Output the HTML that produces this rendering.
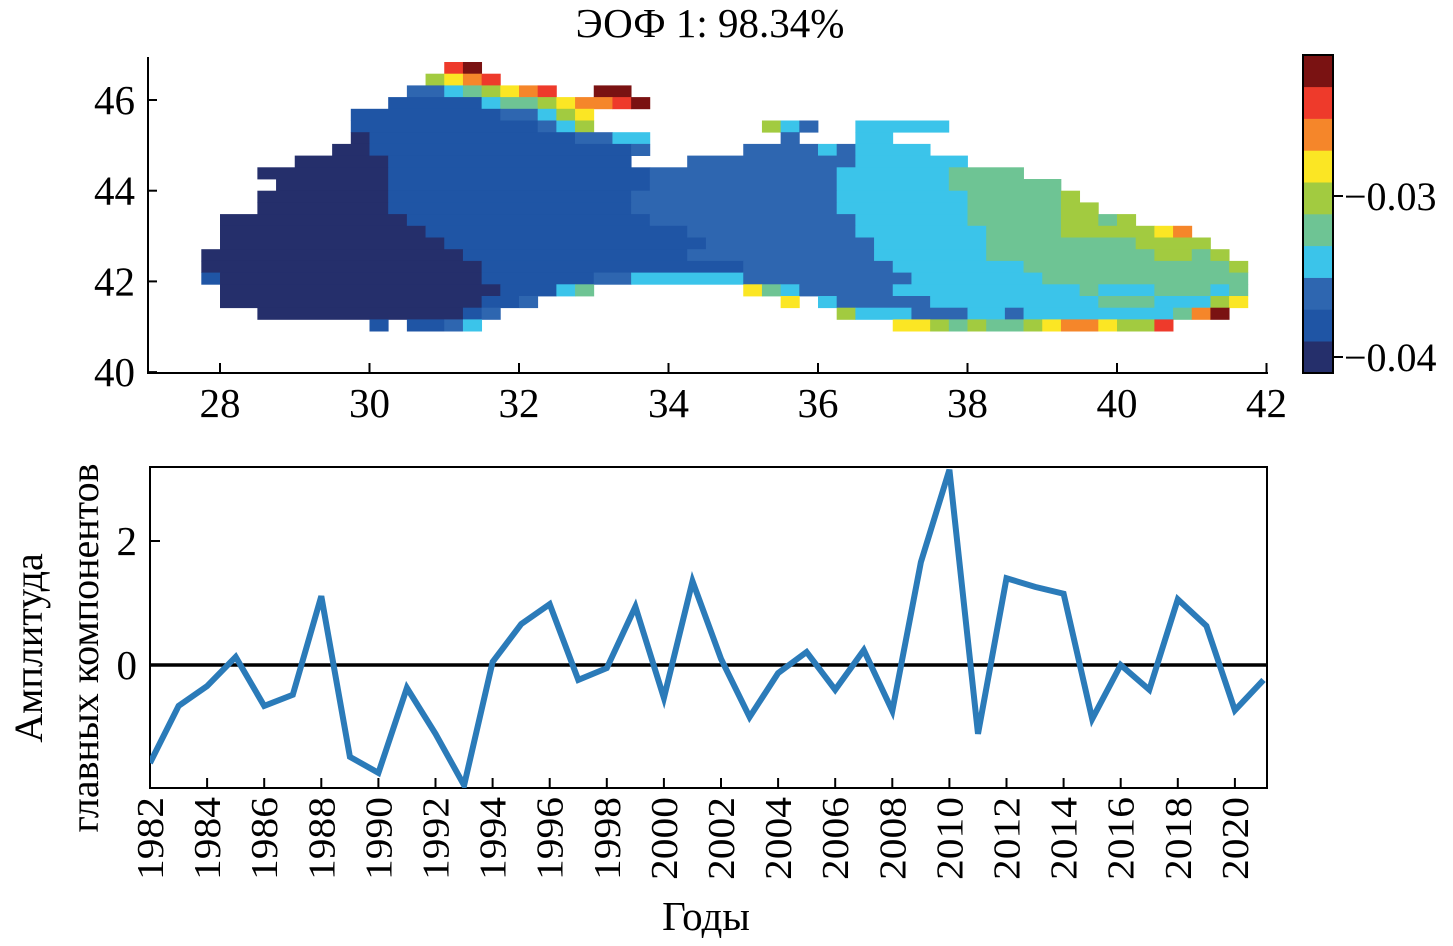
<!DOCTYPE html>
<html><head><meta charset="utf-8">
<style>
html,body{margin:0;padding:0;background:#fff;}
svg{display:block;font-family:"Liberation Serif",serif;}
</style></head>
<body>
<svg id="fig" width="1453" height="946" viewBox="0 0 1453 946">
<text x="710" y="37" font-size="41" text-anchor="middle">ЭОФ 1: 98.34%</text>
<g id="map"></g>
<g id="mapaxes"></g>
<g id="cbar"></g>
<g id="ts"></g>
</svg>
<script>
// ---- Map data ----
const mapColors = ["#252f6b","#1f55a5","#2e66b0","#3bc4ea","#6ec494","#a2cb40","#fbe624","#f5862a","#ee3a2b","#7a1212"];
const mapLonTicks = [28,30,32,34,36,38,40,42];
const mapLatTicks = [40,42,44,46];
const cbarTicks = [-0.03,-0.04];
const cbarTickLabels = ["\u22120.03","\u22120.04"];
// rows of [startCol,endCol,colorIndex]
const mapRows = [
 [[13,13,8],[14,14,9]],
 [[12,12,5],[13,13,6],[14,14,7],[15,15,8]],
 [[11,12,2],[13,13,3],[14,14,4],[15,15,5],[16,16,6],[17,17,7],[18,18,8],[21,22,9]],
 [[10,14,1],[15,15,3],[16,17,4],[18,18,5],[19,19,6],[20,21,7],[22,22,8],[23,23,9]],
 [[8,15,1],[16,17,2],[18,18,3],[19,19,5],[20,20,6]],
 [[8,17,1],[18,18,2],[19,19,3],[20,20,5],[30,30,5],[31,31,3],[32,32,2],[35,39,3]],
 [[8,8,0],[9,19,1],[20,21,2],[22,23,3],[31,31,2],[35,36,3]],
 [[7,8,0],[9,22,1],[23,23,2],[29,32,2],[33,33,3],[34,34,2],[35,38,3]],
 [[5,9,0],[10,22,1],[26,34,2],[35,40,3]],
 [[3,9,0],[10,23,1],[24,33,2],[34,39,3],[40,43,4]],
 [[4,9,0],[10,23,1],[24,33,2],[34,39,3],[40,45,4]],
 [[3,9,0],[10,22,1],[23,33,2],[34,40,3],[41,45,4],[46,46,5]],
 [[3,9,0],[10,22,1],[23,33,2],[34,40,3],[41,45,4],[46,47,5]],
 [[1,10,0],[11,23,1],[24,34,2],[35,40,3],[41,45,4],[46,47,5],[48,48,4],[49,49,5]],
 [[1,11,0],[12,25,1],[26,34,2],[35,41,3],[42,45,4],[46,50,5],[51,51,6],[52,52,7]],
 [[1,12,0],[13,26,1],[27,35,2],[36,41,3],[42,49,4],[50,53,5]],
 [[0,13,0],[14,25,1],[26,35,2],[36,41,3],[42,50,4],[51,52,5],[53,53,4],[54,54,5]],
 [[0,14,0],[15,28,1],[29,36,2],[37,43,3],[44,54,4],[55,55,5]],
 [[0,0,1],[1,14,0],[15,20,1],[21,22,2],[23,28,3],[29,37,2],[38,44,3],[45,55,4]],
 [[1,15,0],[16,18,1],[19,19,3],[20,20,4],[29,29,6],[30,30,4],[31,31,3],[32,36,2],[37,46,3],[47,47,4],[48,50,3],[51,53,4],[54,54,3],[55,55,4]],
 [[1,14,0],[15,16,1],[17,17,2],[31,31,6],[33,33,3],[34,38,2],[39,47,3],[48,50,4],[51,53,3],[54,54,5],[55,55,6]],
 [[3,13,0],[14,14,1],[15,15,2],[34,34,5],[35,37,3],[38,40,2],[41,42,3],[43,43,2],[44,51,3],[52,52,4],[53,53,7],[54,54,9]],
 [[9,9,1],[11,12,1],[13,13,2],[14,14,3],[37,38,6],[39,39,5],[40,40,4],[41,41,5],[42,43,4],[44,44,5],[45,45,6],[46,47,7],[48,48,6],[49,50,5],[51,51,8]]
];
// ---- Time series data ----
const years = [1982,1983,1984,1985,1986,1987,1988,1989,1990,1991,1992,1993,1994,1995,1996,1997,1998,1999,2000,2001,2002,2003,2004,2005,2006,2007,2008,2009,2010,2011,2012,2013,2014,2015,2016,2017,2018,2019,2020,2021];
const amplitude = [-1.58,-0.66,-0.34,0.13,-0.66,-0.48,1.11,-1.48,-1.74,-0.37,-1.11,-1.94,0.05,0.66,0.98,-0.24,-0.05,0.94,-0.53,1.35,0.10,-0.84,-0.13,0.21,-0.40,0.24,-0.74,1.66,3.15,-1.11,1.40,1.26,1.15,-0.87,0.00,-0.40,1.06,0.63,-0.73,-0.24];
const yearTicks = [1982,1984,1986,1988,1990,1992,1994,1996,1998,2000,2002,2004,2006,2008,2010,2012,2014,2016,2018,2020];
const ampTicks = [0,2];

const NS="http://www.w3.org/2000/svg";
function mk(tag, attrs, parent){const e=document.createElementNS(NS,tag);for(const k in attrs)e.setAttribute(k,attrs[k]);parent.appendChild(e);return e;}

const lonX = lon => 220 + (lon-28)*74.75;
const latY = lat => 100 + (46-lat)*45.35;
const cellW = 0.25*74.75, cellH = 11.7, col0Lon = 27.75, row0Y = 62;
const colX = c => lonX(col0Lon + c*0.25);
const rowY = r => row0Y + r*cellH;

const gMap=document.getElementById('map');
mapRows.forEach((segs,r)=>{
  segs.forEach(s=>{
    const x0=colX(s[0]), x1=colX(s[1]+1);
    const el=mk('rect',{x:x0.toFixed(2),y:rowY(r).toFixed(2),width:(x1-x0+0.4).toFixed(2),height:(cellH+0.4).toFixed(2),fill:mapColors[s[2]]},gMap);
    
    
  });
});

const gAx=document.getElementById('mapaxes');
let a=mk('line',{x1:148,y1:57,x2:148,y2:373,stroke:'#000','stroke-width':2},gAx);

a=mk('line',{x1:147,y1:373,x2:1268,y2:373,stroke:'#000','stroke-width':2},gAx);

mapLatTicks.forEach(v=>{
  const y=latY(v);
  mk('line',{x1:148,y1:y,x2:157,y2:y,stroke:'#000','stroke-width':2},gAx);
  const t=mk('text',{x:135,y:y+14,'font-size':41,'text-anchor':'end'},gAx);
  t.textContent=v;
  
  
});
mapLonTicks.forEach(v=>{
  const x=lonX(v);
  mk('line',{x1:x,y1:373,x2:x,y2:363,stroke:'#000','stroke-width':2},gAx);
  const t=mk('text',{x:x,y:417,'font-size':41,'text-anchor':'middle'},gAx);
  t.textContent=v;
  
  
});

const gC=document.getElementById('cbar');
const cbTop=55, cbBot=373, cbX=1303, cbW=30;
const segH=(cbBot-cbTop)/mapColors.length;
for(let i=0;i<mapColors.length;i++){
  const el=mk('rect',{x:cbX,y:(cbBot-(i+1)*segH).toFixed(2),width:cbW,height:(segH+0.3).toFixed(2),fill:mapColors[i]},gC);
  
  
}
mk('rect',{x:cbX,y:cbTop,width:cbW,height:cbBot-cbTop,fill:'none',stroke:'#000','stroke-width':2},gC);
const cbVal = v => 196 + (v-(-0.03))/(-0.01)*161;
cbarTicks.forEach((v,i)=>{
  const y=cbVal(v);
  mk('line',{x1:cbX+cbW,y1:y,x2:cbX+cbW+10,y2:y,stroke:'#000','stroke-width':2},gC);
  const t=mk('text',{x:1344,y:y+14,'font-size':40},gC);
  t.textContent=cbarTickLabels[i];
  
  
});

const gT=document.getElementById('ts');
const px = yr => 150 + (yr-1982)*28.55;
const py = v => 665 - v*62;
const box=mk('rect',{x:150,y:467,width:1117,height:321,fill:'none',stroke:'#000','stroke-width':2},gT);

const zl=mk('line',{x1:150,y1:py(0),x2:1267,y2:py(0),stroke:'#000','stroke-width':3.5},gT);

const clip=mk('clipPath',{id:'tsclip'},gT);
mk('rect',{x:150,y:467,width:1117,height:321},clip);
const pts=years.map((y,i)=>px(y).toFixed(1)+','+py(amplitude[i]).toFixed(1)).join(' ');
const ln=mk('polyline',{points:pts,fill:'none',stroke:'#2b7bb9','stroke-width':6,'stroke-linejoin':'miter','clip-path':'url(#tsclip)'},gT);

ampTicks.forEach(v=>{
  const y=py(v);
  mk('line',{x1:150,y1:y,x2:160,y2:y,stroke:'#000','stroke-width':2},gT);
  const t=mk('text',{x:137,y:y+14,'font-size':41,'text-anchor':'end'},gT);
  t.textContent=v;
  
  
});
yearTicks.forEach(v=>{
  const x=px(v);
  mk('line',{x1:x,y1:788,x2:x,y2:778,stroke:'#000','stroke-width':2},gT);
  const t=mk('text',{x:0,y:0,'font-size':38,'text-anchor':'end',textLength:83,lengthAdjust:'spacingAndGlyphs',transform:'translate('+(x+13)+',797) rotate(-90)'},gT);
  t.textContent=v;
  
  
});
let t=mk('text',{x:706,y:930,'font-size':41,'text-anchor':'middle'},gT);
t.textContent='Годы';

t=mk('text',{x:0,y:0,'font-size':40,'text-anchor':'middle',transform:'translate(42,648) rotate(-90)'},gT);
t.textContent='Амплитуда';

t=mk('text',{x:0,y:0,'font-size':40,'text-anchor':'middle',transform:'translate(98,648) rotate(-90)'},gT);
t.textContent='главных компонентов';

</script>
</body></html>
